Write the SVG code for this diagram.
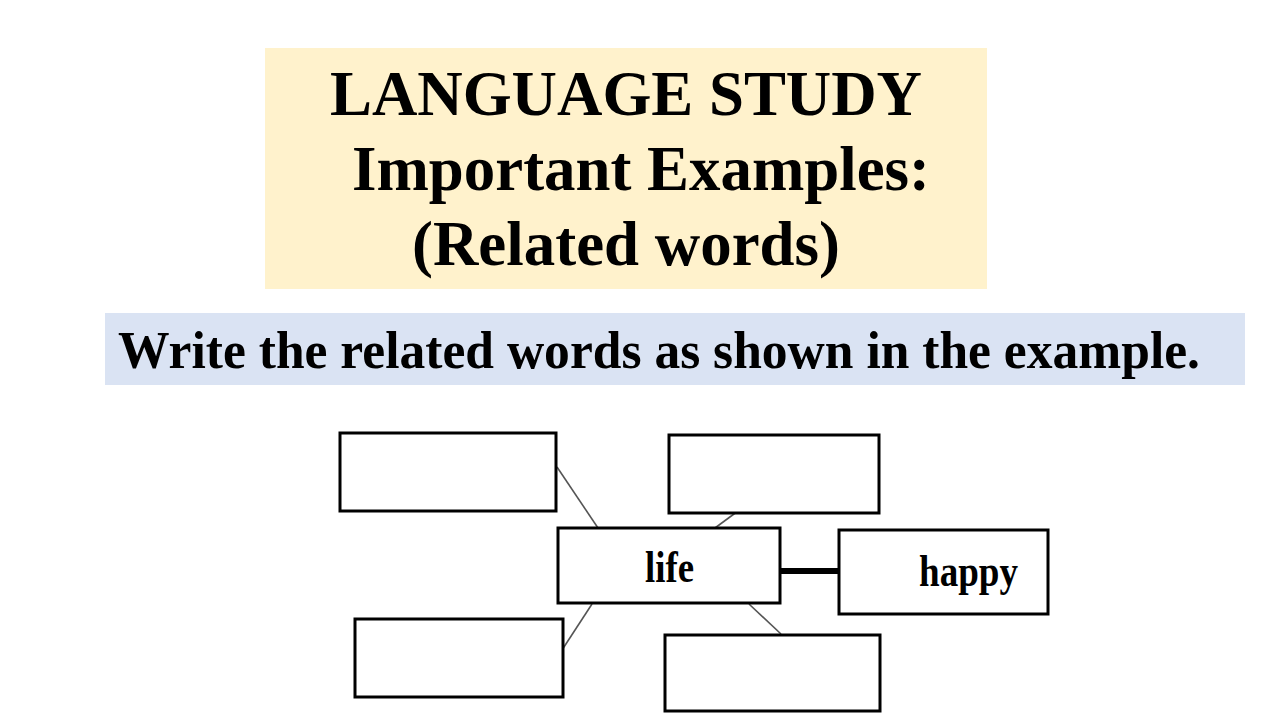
<svg xmlns="http://www.w3.org/2000/svg" width="1280" height="720" viewBox="0 0 1280 720">
<style>
.title{font-family:"Liberation Serif","Times New Roman",serif;font-weight:bold;fill:#000}
.box{fill:#fff;stroke:#000;stroke-width:3}
.thin{stroke:#555;stroke-width:1.6;fill:none}
.thick{stroke:#000;stroke-width:6;fill:none}
.lbl{font-family:"Liberation Serif","Times New Roman",serif;font-weight:bold;font-size:44px;fill:#000}
</style>
<rect width="1280" height="720" fill="#fff"/>
<g id="header">
<rect x="265" y="48" width="722" height="241" fill="#FFF2CC"/>
<text class="title" x="330" y="115" font-size="63" textLength="592" lengthAdjust="spacingAndGlyphs">LANGUAGE STUDY</text>
<text class="title" x="352" y="190" font-size="63" textLength="578" lengthAdjust="spacingAndGlyphs">Important Examples:</text>
<text class="title" x="412" y="265" font-size="63" textLength="428" lengthAdjust="spacingAndGlyphs">(Related words)</text>
</g>
<g id="instruction">
<rect x="105" y="313" width="1140" height="72" fill="#DAE3F3"/>
<text class="title" x="118" y="368" font-size="52" textLength="1082" lengthAdjust="spacingAndGlyphs">Write the related words as shown in the example.</text>
</g>
<g id="connectors">
<line class="thin" x1="557" y1="467" x2="598" y2="528"/>
<line class="thin" x1="738" y1="511" x2="715" y2="528"/>
<line class="thin" x1="592" y1="604" x2="562" y2="650"/>
<line class="thin" x1="749" y1="604" x2="781" y2="634"/>
<line class="thick" x1="780" y1="571" x2="843" y2="571"/>
</g>
<g id="box-top-left"><rect class="box" x="340" y="433" width="216" height="78"/></g>
<g id="box-top-right"><rect class="box" x="669" y="435" width="210" height="78"/></g>
<g id="box-life"><rect class="box" x="558" y="528" width="222" height="75"/>
<text class="lbl" x="645" y="582" textLength="49" lengthAdjust="spacingAndGlyphs">life</text></g>
<g id="box-happy"><rect class="box" x="839" y="530" width="209" height="84"/>
<text class="lbl" x="919" y="586" textLength="99" lengthAdjust="spacingAndGlyphs">happy</text></g>
<g id="box-bottom-left"><rect class="box" x="355" y="619" width="208" height="78"/></g>
<g id="box-bottom-right"><rect class="box" x="665" y="635" width="215" height="76"/></g>
</svg>
